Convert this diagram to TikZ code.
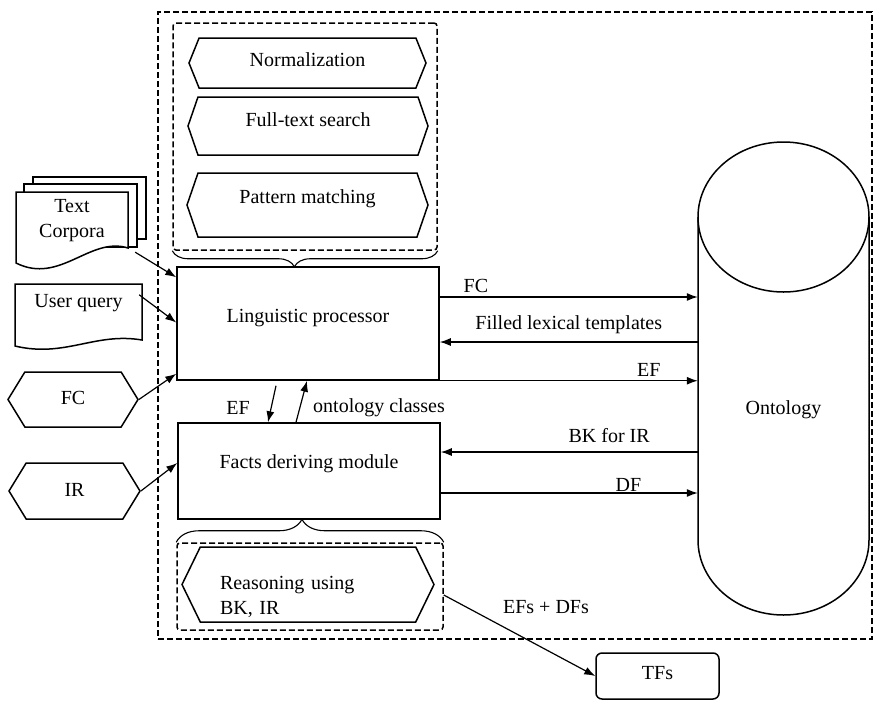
\documentclass[tikz,border=0pt]{standalone}
\usepackage{fontspec}
\setmainfont{Liberation Serif}
\usepackage{tikz}
\usetikzlibrary{positioning, shapes.symbols, decorations.pathreplacing, arrows.meta}

\begin{document}
\begin{tikzpicture}[x=1pt, y=-1pt, font=\fontsize{20}{25}\selectfont,
        >={Latex[length=11pt, width=8pt]},
        box/.style={draw, line width=1.5pt, text height=14pt, text depth=4pt},
        hexa/.style={draw, line width=1.5pt, shape=signal, signal to=west and east,
                     text height=14pt, text depth=4pt},
        grp/.style={draw, line width=1.5pt, dash pattern=on 6pt off 3pt, rounded corners=3pt},
        flow/.style={->, line width=1.2pt},
        lbl/.style={inner sep=3pt}]
        \useasboundingbox (0,0) rectangle (876,702);

        % system border
        \node[grp, rounded corners=0pt, minimum width=714pt, minimum height=627pt] (sys) at (515,325.5) {};

        % linguistic tools
        \node[grp, minimum width=264pt, minimum height=227pt] (toolsA) at (305,136.5) {};
        \node[hexa, minimum width=237pt, minimum height=50pt, signal pointer angle=136, text depth=7pt] (norm) at (307.5,63) {Normalization};
        \node[hexa, minimum width=240pt, minimum height=58pt, signal pointer angle=142, text depth=13pt] (fts) at (308,126) {Full-text search};
        \node[hexa, minimum width=241pt, minimum height=64pt, signal pointer angle=142, text depth=17pt] (pm) at (307.5,205) {Pattern matching};

        % main modules
        \node[box, minimum width=262pt, minimum height=113pt, text depth=16pt] (lp) at (308,323.5) {Linguistic processor};
        \node[box, minimum width=262pt, minimum height=96pt, text depth=19pt] (fdm) at (309,471) {Facts deriving module};

        % reasoning
        \node[grp, minimum width=266pt, minimum height=87pt] (toolsB) at (310,586.5) {};
        \node[hexa, minimum width=252pt, minimum height=75pt, signal pointer angle=128,
              text width=176pt, align=left] (reas) at (308,584.5) {Reasoning using\\BK, IR};

        \draw[line width=1.1pt, decorate, decoration={brace, amplitude=16pt, aspect=0.54}] (toolsA.south east) -- (toolsA.south west);
        \draw[line width=1.1pt, decorate, decoration={brace, amplitude=23pt, aspect=0.47}] (toolsB.north west) -- (toolsB.north east);

        % inputs
        \draw[line width=1.5pt, fill=white] (33,177) rectangle (146,239);
        \draw[line width=1.5pt, fill=white] (24,184) rectangle (137,247);
        \draw[line width=1.5pt, fill=white] (16,192) -- (128,192) -- (128,248)
            .. controls (90,236) and (60,285) .. (16,263) -- cycle;
        \node[minimum width=112pt, minimum height=58pt, align=center] (tc) at (72,221) {Text\\Corpora};

        \draw[line width=1.5pt] (15,284) -- (142,284) -- (142,340)
            .. controls (95,332) and (65,358) .. (15,346) -- cycle;
        \node[minimum width=127pt, minimum height=38pt] (uq) at (78.5,303) {User query};

        \node[hexa, minimum width=130pt, minimum height=55pt, signal pointer angle=117] (fc) at (73,399.5) {FC};
        \node[hexa, minimum width=131pt, minimum height=56pt, signal pointer angle=117] (ir) at (74.5,491) {IR};

        % ontology
        \node[minimum width=171pt, minimum height=400pt] (ont) at (783.5,410) {Ontology};
        \draw[line width=1.5pt] (698,217)
            .. controls (698,175.6) and (736.3,142) .. (783.5,142)
            .. controls (830.7,142) and (869,175.6) .. (869,217)
            .. controls (869,258.4) and (830.7,292) .. (783.5,292)
            .. controls (736.3,292) and (698,258.4) .. (698,217) -- cycle;
        \draw[line width=1.5pt] (698,217) -- (698,540)
            .. controls (698,581.4) and (736.3,615) .. (783.5,615)
            .. controls (830.7,615) and (869,581.4) .. (869,540) -- (869,217);

        % output
        \node[box, rounded corners=6pt, minimum width=123pt, minimum height=46pt, text depth=7pt] (tfs) at (657.5,676) {TFs};

        % connectors
        \draw[flow] ([xshift=7pt, yshift=-2pt]tc.south east) -- ([yshift=-11pt]lp.north west);
        \draw[flow] ([xshift=-3pt, yshift=-11pt]uq.north east) -- ([yshift=1pt]lp.west);
        \draw[flow] (fc.east) -- ([yshift=7pt]lp.south west);
        \draw[flow] (ir.east) -- ([yshift=8pt]fdm.west);

        \draw[flow] ([xshift=-32pt, yshift=-5pt]lp.south) -- ([xshift=-41pt]fdm.north);
        \draw[flow] ([xshift=-13pt]fdm.north) -- ([xshift=-1pt]lp.south);
        \node[lbl] (lblEF) at (238,408) {EF};
        \node[lbl, anchor=west] (lblOC) at (310,408) {ontology classes};

        \draw[flow] ([yshift=26.5pt]lp.east) -- node[pos=0.14, above] {FC} ([yshift=26.5pt]lp.east -| ont.west);
        \draw[flow] ([yshift=-18.5pt]lp.east -| ont.west) -- node[pos=0.5, above=4pt] {Filled lexical templates} ([yshift=-18.5pt]lp.east);
        \draw[flow] (lp.south east) -- node[pos=0.81, above] {EF} (lp.south east -| ont.west);
        \draw[flow] ([yshift=19pt]fdm.east -| ont.west) -- node[pos=0.345, above=5pt] {BK for IR} ([yshift=19pt]fdm.east);
        \draw[flow] ([yshift=-22pt]fdm.east) -- node[pos=0.73, above=-2pt] {DF} ([yshift=-22pt]fdm.east -| ont.west);

        \draw[flow] ([yshift=-8.5pt]toolsB.east) -- (tfs.west);
        \node[lbl] (lblTF) at (546,607) {EFs + DFs};

    \end{tikzpicture}
\end{document}
